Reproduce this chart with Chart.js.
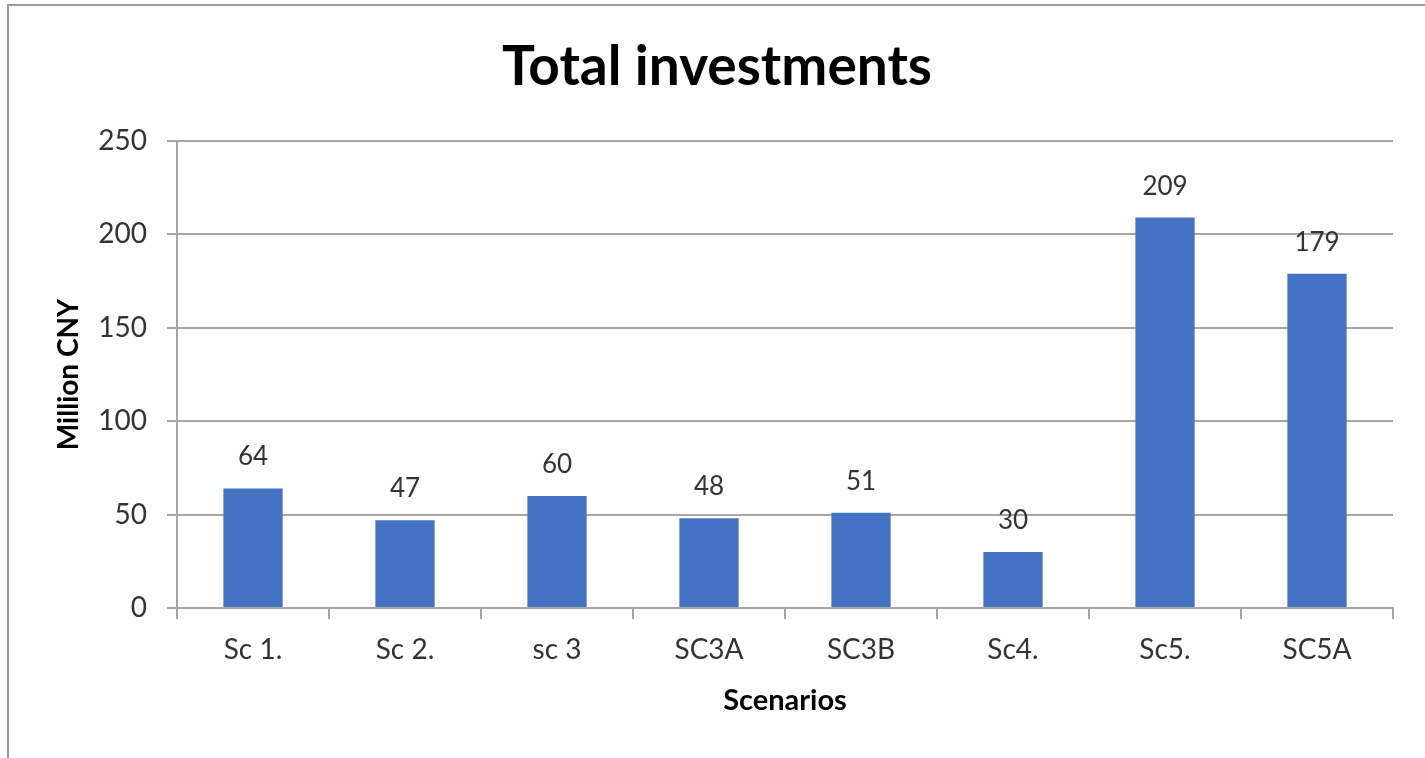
<!DOCTYPE html>
<html>
<head>
<meta charset="utf-8">
<script src="https://cdn.jsdelivr.net/npm/chart.js@4/dist/chart.umd.min.js"></script>
<style>
  html, body { margin: 0; padding: 0; background: #fff; }
  #wrap { width: 1425px; height: 758px; position: relative; }
</style>
</head>
<body>
<div id="wrap"><canvas id="c" width="1425" height="758"></canvas></div>
<script>
const scenarios = ['Sc 1.', 'Sc 2.', 'sc 3', 'SC3A', 'SC3B', 'Sc4.', 'Sc5.', 'SC5A'];
const investments = [64, 47, 60, 48, 51, 30, 209, 179];
const yTicks = [0, 50, 100, 150, 200, 250];
const chartTitle = 'Total investments';

const FONT = 'Lato, "Open Sans", sans-serif';
const GRID = '#a6a6a6';
const TEXT = '#333333';

// Thin frame along the top and left edges of the figure, plus the heading
const framePlugin = {
  id: 'frame',
  beforeDraw(chart) {
    const ctx = chart.ctx;
    ctx.save();
    ctx.fillStyle = '#ffffff';
    ctx.fillRect(0, 0, chart.width, chart.height);
    ctx.strokeStyle = '#9a9a9a';
    ctx.lineWidth = 2;
    ctx.beginPath();
    ctx.moveTo(8, chart.height + 2);
    ctx.lineTo(8, 5);
    ctx.lineTo(chart.width + 2, 5);
    ctx.stroke();

    // heading, centred over the plot with its axis labels
    ctx.font = 'bold 55px ' + FONT;
    ctx.fillStyle = '#000000';
    ctx.textAlign = 'center';
    ctx.textBaseline = 'alphabetic';
    ctx.fillText(chartTitle, 717, 85);
    ctx.restore();
  }
};

// Value printed above each bar
const valueLabels = {
  id: 'valueLabels',
  afterDatasetsDraw(chart) {
    const ctx = chart.ctx;
    const meta = chart.getDatasetMeta(0);
    const data = chart.data.datasets[0].data;
    ctx.save();
    ctx.font = '26px ' + FONT;
    ctx.fillStyle = TEXT;
    ctx.textAlign = 'center';
    ctx.textBaseline = 'alphabetic';
    meta.data.forEach((bar, i) => {
      ctx.fillText(String(data[i]), bar.x, bar.y - 23);
    });
    ctx.restore();
  }
};

new Chart(document.getElementById('c'), {
  type: 'bar',
  data: {
    labels: scenarios,
    datasets: [{
      data: investments,
      backgroundColor: '#4472C4',
      borderWidth: 0,
      categoryPercentage: 1,
      barPercentage: 0.39
    }]
  },
  options: {
    responsive: false,
    animation: false,
    devicePixelRatio: 1,
    layout: { padding: { left: 0, right: 32, top: 141, bottom: 0 } },
    plugins: {
      legend: { display: false },
      tooltip: { enabled: false },
      title: { display: false }
    },
    scales: {
      x: {
        grid: {
          display: true,
          offset: true,
          drawOnChartArea: false,
          drawTicks: true,
          tickLength: 11,
          color: GRID,
          lineWidth: 2
        },
        border: { display: true, color: GRID, width: 2 },
        ticks: {
          color: TEXT,
          font: { family: FONT, size: 28 },
          padding: 14,
          maxRotation: 0,
          autoSkip: false
        },
        title: {
          display: true,
          text: 'Scenarios',
          color: '#000000',
          font: { family: FONT, size: 29, weight: 'bold', lineHeight: 1.2 },
          padding: { top: 0, bottom: 40 }
        },
        afterFit(scale) { scale.height = 150; }
      },
      y: {
        min: 0,
        max: 250,
        afterBuildTicks(scale) { scale.ticks = yTicks.map(v => ({ value: v })); },
        grid: {
          color: GRID,
          lineWidth: 2,
          drawTicks: true,
          tickLength: 10
        },
        border: { display: true, color: GRID, width: 2 },
        ticks: {
          color: TEXT,
          font: { family: FONT, size: 28 },
          padding: 20
        },
        title: {
          display: true,
          text: 'Million CNY',
          color: '#000000',
          font: { family: FONT, size: 28, weight: 'bold', lineHeight: 1.2 },
          padding: { top: 52, bottom: 0 }
        },
        afterFit(scale) { scale.width = 177; }
      }
    }
  },
  plugins: [framePlugin, valueLabels]
});
</script>
</body>
</html>
